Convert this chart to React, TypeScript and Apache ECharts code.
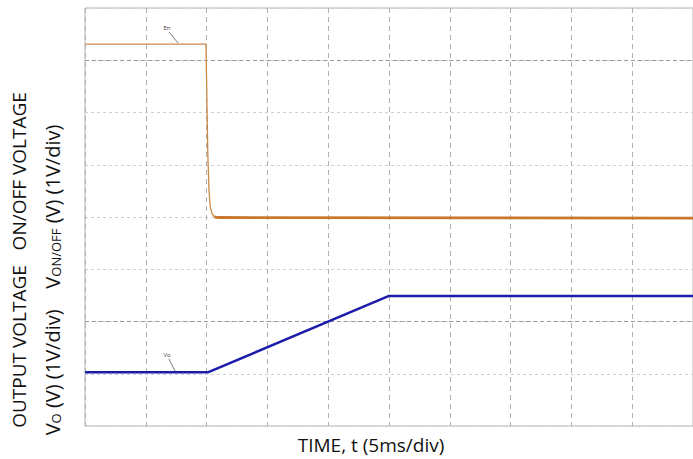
import React, { useEffect, useRef } from "react";
import * as echarts from "echarts";

// time in divisions (5 ms/div), voltage in divisions (1 V/div)
const onOffTime = [0, 1.99, 2.0, 2.02, 2.04, 2.06, 2.09, 2.13, 2.2, 10];
const onOffVolt = [7.31, 7.31, 6.6, 5.2, 4.5, 4.2, 4.06, 4.0, 3.99, 3.98];
const onOffSettleIndex = 7;
const voutTime = [0, 2.03, 5.0, 10];
const voutVolt = [1.03, 1.03, 2.49, 2.49];
const darkGridRows = [2, 7];

const FONT = "'Open Sans', Lato, sans-serif";
const FS = 19;

export default function App() {
  const ref = useRef<HTMLDivElement>(null);
  useEffect(() => {
    if (!ref.current) return;
    const chart = echarts.init(ref.current, undefined, { renderer: "svg" });
    const onOff = onOffTime.map((t, i) => [t, onOffVolt[i]]);
    const vout = voutTime.map((t, i) => [t, voutVolt[i]]);
    chart.setOption({
      animation: false,
      backgroundColor: "#ffffff",
      grid: { left: 85, top: 8, width: 612, height: 418, show: true, borderColor: "#b5b5b5", borderWidth: 1 },
      xAxis: {
        type: "value",
        min: 0,
        max: 10,
        interval: 1,
        axisLabel: { show: false },
        axisTick: { show: false },
        axisLine: { show: false },
        splitLine: { show: true, lineStyle: { color: "#b0b0b0", type: [5, 4], width: 1 } },
      },
      yAxis: {
        type: "value",
        min: 0,
        max: 8,
        interval: 1,
        axisLabel: { show: false },
        axisTick: { show: false },
        axisLine: { show: false },
        splitLine: { show: true, lineStyle: { color: "#cfcfcf", type: [3, 3], width: 1 } },
      },
      series: [
        {
          type: "line",
          data: [],
          silent: true,
          markLine: {
            silent: true,
            symbol: "none",
            label: { show: false },
            lineStyle: { color: "#999999", type: [4, 3], width: 1 },
            data: darkGridRows.map((v) => ({ yAxis: v })),
          },
        },
        {
          name: "VON/OFF high",
          type: "line",
          data: onOff.slice(0, onOffSettleIndex + 1),
          symbol: "none",
          lineStyle: { color: "#c98a48", width: 1.3 },
          z: 5,
        },
        {
          name: "VON/OFF",
          type: "line",
          data: onOff.slice(onOffSettleIndex),
          symbol: "none",
          lineStyle: { color: "#c8772c", width: 2.8 },
          z: 5,
        },
        {
          name: "VO",
          type: "line",
          data: vout,
          symbol: "none",
          lineStyle: { color: "#1c1ca8", width: 2.5 },
          z: 6,
        },
      ],
      graphic: [
        {
          type: "text",
          x: 19,
          y: 260,
          rotation: Math.PI / 2,
          style: {
            text: "OUTPUT VOLTAGE   ON/OFF VOLTAGE",
            font: `${FS}px ${FONT}`,
            fill: "#111",
            align: "center",
            verticalAlign: "middle",
          },
        },
        {
          type: "text",
          x: 52,
          y: 280,
          rotation: Math.PI / 2,
          style: {
            text: "{a|V}{s|O}{a| (V) (1V/div)    V}{s|ON/OFF}{a| (V) (1V/div)}",
            font: `20px ${FONT}`,
            fill: "#111",
            align: "center",
            verticalAlign: "middle",
            rich: {
              a: { fontSize: 20, fontFamily: FONT, fill: "#111", verticalAlign: "bottom" },
              s: { fontSize: 13, fontFamily: FONT, fill: "#111", verticalAlign: "bottom" },
            },
          },
        },
        {
          type: "text",
          x: 371,
          y: 445,
          style: {
            text: "TIME, t (5ms/div)",
            font: `${FS}px ${FONT}`,
            fill: "#111",
            align: "center",
            verticalAlign: "middle",
          },
        },
        {
          type: "text",
          x: 167,
          y: 28,
          style: { text: "En", font: `6px ${FONT}`, fill: "#444", align: "center", verticalAlign: "middle" },
        },
        { type: "line", shape: { x1: 169, y1: 32, x2: 178, y2: 43 }, style: { stroke: "#555", lineWidth: 0.8 } },
        {
          type: "text",
          x: 167,
          y: 355,
          style: { text: "Vo", font: `6px ${FONT}`, fill: "#444", align: "center", verticalAlign: "middle" },
        },
        { type: "line", shape: { x1: 169, y1: 359, x2: 175, y2: 371 }, style: { stroke: "#555", lineWidth: 0.8 } },
      ],
    });
    return () => chart.dispose();
  }, []);
  return <div ref={ref} style={{ width: 693, height: 459, position: "absolute", left: 0, top: 0 }} />;
}
